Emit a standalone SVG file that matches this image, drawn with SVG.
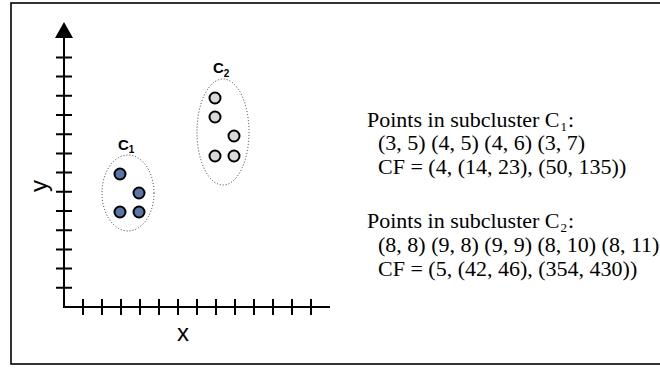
<svg xmlns="http://www.w3.org/2000/svg" width="660" height="368" viewBox="0 0 660 368">
<defs>
<style>
.ax{stroke:#000;stroke-width:2;fill:none}
.ell{fill:none;stroke:#333;stroke-width:1;stroke-dasharray:1 2}
.p1{fill:#5a76a8;stroke:#000;stroke-width:2}
.p2{fill:#d9d9d9;stroke:#000;stroke-width:2}
.lab{font-family:"Liberation Sans",Arial,sans-serif;font-weight:bold;font-size:15px;fill:#000}
.sub{font-size:10px}
.ttl{font-family:"Liberation Sans",Arial,sans-serif;font-size:24px;fill:#000}
.tx{font-family:"Liberation Serif","Times New Roman",serif;font-size:22px;fill:#000}
.ts{font-size:13px}
</style>
</defs>
<rect x="11" y="3" width="660" height="361" fill="#fff" stroke="#000" stroke-width="1.6"/>
<g id="axes">
<path class="ax" d="M64 36 V307 H330"/>
<polygon points="64,22 55,38 73,38" fill="#000"/>
<path class="ax" d="M56 57.4H72M56 76.6H72M56 95.8H72M56 115H72M56 134.2H72M56 153.4H72M56 172.6H72M56 191.8H72M56 211H72M56 230.2H72M56 249.4H72M56 268.6H72M56 287.8H72"/>
<path class="ax" d="M83 299V315M102 299V315M121 299V315M140 299V315M159 299V315M178 299V315M197 299V315M216 299V315M235 299V315M254 299V315M273 299V315M292 299V315M311 299V315"/>
<text class="ttl" transform="translate(47 186) rotate(-90)" text-anchor="middle">y</text>
<text class="ttl" x="183" y="341" text-anchor="middle">x</text>
</g>
<g id="c1">
<ellipse class="ell" cx="128" cy="193" rx="26" ry="38"/>
<circle class="p1" cx="120" cy="174" r="5.5"/>
<circle class="p1" cx="139" cy="193" r="5.5"/>
<circle class="p1" cx="120" cy="212" r="5.5"/>
<circle class="p1" cx="139" cy="212" r="5.5"/>
<text class="lab" x="118" y="150">C<tspan class="sub" dy="3">1</tspan></text>
</g>
<g id="c2">
<ellipse class="ell" cx="223" cy="132" rx="26" ry="53"/>
<circle class="p2" cx="215" cy="98" r="5.5"/>
<circle class="p2" cx="215" cy="117" r="5.5"/>
<circle class="p2" cx="234" cy="136" r="5.5"/>
<circle class="p2" cx="215" cy="156" r="5.5"/>
<circle class="p2" cx="234" cy="156" r="5.5"/>
<text class="lab" x="213" y="73">C<tspan class="sub" dy="4">2</tspan></text>
</g>
<g id="info">
<text class="tx" x="367" y="126.5">Points in subcluster C</text>
<text class="tx ts" x="560.5" y="130.5">1</text>
<text class="tx" x="568" y="126.5">:</text>
<text class="tx" x="378" y="150">(3, 5) (4, 5) (4, 6) (3, 7)</text>
<text class="tx" x="378" y="173.5">CF = (4, (14, 23), (50, 135))</text>
<text class="tx" x="367" y="228">Points in subcluster C</text>
<text class="tx ts" x="560.5" y="232">2</text>
<text class="tx" x="568" y="228">:</text>
<text class="tx" x="378" y="252">(8, 8) (9, 8) (9, 9) (8, 10) (8, 11)</text>
<text class="tx" x="378" y="276">CF = (5, (42, 46), (354, 430))</text>
</g>
</svg>
